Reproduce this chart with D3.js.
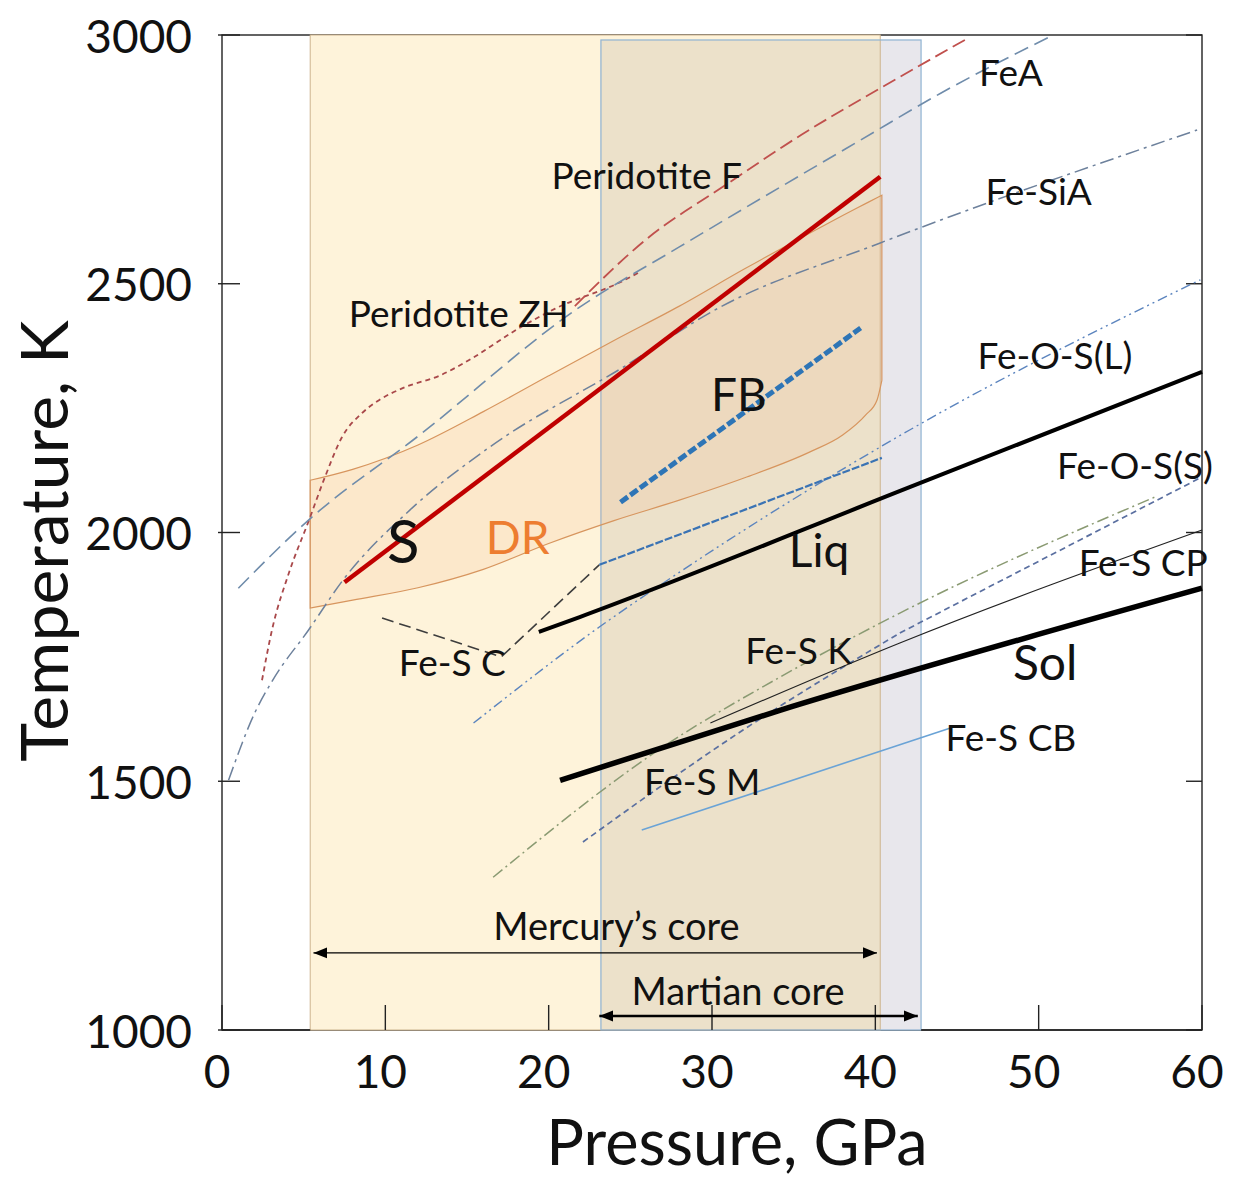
<!DOCTYPE html>
<html>
<head>
<meta charset="utf-8">
<script src="https://cdn.jsdelivr.net/npm/d3@7"></script>
<style>
  body { margin: 0; background: #fff; }
  text { font-family: Lato, "Open Sans", sans-serif; fill: #111; }
</style>
</head>
<body>
<script>
// Chart size (the whole page)
const width = 1234;
const height = 1179;

// Axis ticks
const xTicks = [0, 10, 20, 30, 40, 50, 60];
const yTicks = [1000, 1500, 2000, 2500, 3000];

// Shaded pressure ranges (GPa)
const mercuryRange = [5.4, 40.3];
const marsRange = [23.2, 42.8];

// DR band: pressure, lower T, upper T
const drBand = [
  [5.4, 1848, 2105], [8, 1864, 2127], [12, 1889, 2176], [16, 1926, 2243],
  [20, 1978, 2315], [24, 2024, 2386], [28, 2065, 2455], [32, 2110, 2530],
  [36, 2162, 2602], [38, 2196, 2637], [39.4, 2236, 2661], [40.1, 2266, 2673],
  [40.4, 2306, 2678]
];

// Curves [pressure GPa, temperature K]
const sLine = [[7.5, 1900], [40.3, 2715]];
const fbLine = [[24.4, 2061], [39.1, 2411]];
const liqLine = [[19.4, 1800], [21.9, 1830], [42.1, 2091], [60, 2323]];
const solLine = [[20.7, 1502], [34.2, 1643], [60, 1888]];
const feSCP = [[29.9, 1617], [41.5, 1778], [60, 2005]];
const feSCB = [[25.7, 1402], [44.6, 1607]];
const feSK = [[16.6, 1307], [27.0, 1569], [34.2, 1710], [41.5, 1838], [57.1, 2071]];
const feSM = [[22.1, 1378], [31.9, 1603], [41.5, 1798]];
const feOSS = [[41.5, 1798], [59.9, 2110]];
const feOSL = [[15.4, 1617], [23.1, 1810], [27.0, 1898], [42.1, 2206], [59.9, 2508]];
const feSC = [[9.8, 1828], [17.1, 1750], [23.1, 1935]];
const feSCext = [[23.1, 1935], [40.4, 2150]];
const feA = [[1.0, 1888], [5.3, 2025], [12.1, 2196], [21.9, 2453], [28.0, 2574], [39.1, 2789], [44.0, 2883], [50.9, 3000]];
const feSiA = [[0.4, 1502], [2.0, 1637], [3.1, 1703], [5.3, 1804], [7.4, 1904], [11.5, 2045], [16.4, 2172], [24.5, 2331], [30.5, 2453], [40.3, 2582], [59.7, 2809]];
const peridZH = [[2.45, 1703], [3.06, 1804], [4.1, 1919], [5.33, 2025], [6.31, 2112], [7.35, 2192], [8.57, 2240], [9.61, 2266], [11.2, 2292], [13.3, 2315], [15.3, 2350], [17.9, 2405], [20.4, 2450], [24.5, 2505], [25.6, 2524]];
const peridF = [[21.6, 2455], [26.0, 2590], [30.9, 2700], [35.5, 2800], [40.3, 2893], [45.8, 2996]];

// Core arrows: [from, to] pressure, at temperature
const mercuryArrow = [5.6, 40.1];
const mercuryArrowT = 1155;
const marsArrow = [23.1, 42.6];
const marsArrowT = 1028;

// Scales
const x = d3.scaleLinear().domain([0, 60]).range([222, 1202]);
const y = d3.scaleLinear().domain([1000, 3000]).range([1030, 35]);

const svg = d3.select("body")
  .append("svg")
  .attr("width", width)
  .attr("height", height);

const defs = svg.append("defs");
function arrowMarker(id, orient, size) {
  defs.append("marker")
    .attr("id", id)
    .attr("viewBox", "0 0 10 10")
    .attr("refX", 10).attr("refY", 5)
    .attr("markerUnits", "userSpaceOnUse")
    .attr("markerWidth", size).attr("markerHeight", size)
    .attr("orient", orient)
    .append("path")
    .attr("d", "M0,1 L10,5 L0,9 Z")
    .attr("fill", "#000");
}
arrowMarker("arr", "auto-start-reverse", 14);

// Frame
svg.append("rect")
  .attr("x", x(0)).attr("y", y(3000))
  .attr("width", x(60) - x(0)).attr("height", y(1000) - y(3000))
  .attr("fill", "none").attr("stroke", "#222").attr("stroke-width", 1.4);

// Shaded core ranges
svg.append("rect")
  .attr("x", x(mercuryRange[0])).attr("y", y(3000))
  .attr("width", x(mercuryRange[1]) - x(mercuryRange[0])).attr("height", y(1000) - y(3000))
  .attr("fill", "#fef3da");
svg.append("rect")
  .attr("x", x(marsRange[0])).attr("y", y(2990))
  .attr("width", x(marsRange[1]) - x(marsRange[0])).attr("height", y(1000) - y(2990))
  .attr("fill", "#e8e7ec");
svg.append("rect")
  .attr("x", x(marsRange[0])).attr("y", y(2990))
  .attr("width", x(mercuryRange[1]) - x(marsRange[0])).attr("height", y(1000) - y(2990))
  .attr("fill", "#ece1ca");
svg.append("rect")
  .attr("x", x(mercuryRange[0])).attr("y", y(3000))
  .attr("width", x(mercuryRange[1]) - x(mercuryRange[0])).attr("height", y(1000) - y(3000))
  .attr("fill", "none").attr("stroke", "#cdb48e").attr("stroke-width", 1);
svg.append("rect")
  .attr("x", x(marsRange[0])).attr("y", y(2990))
  .attr("width", x(marsRange[1]) - x(marsRange[0])).attr("height", y(1000) - y(2990))
  .attr("fill", "none").attr("stroke", "#8fb3d3").attr("stroke-width", 1.2);

// DR band
const drArea = d3.area()
  .x(d => x(d[0])).y0(d => y(d[1])).y1(d => y(d[2]))
  .curve(d3.curveMonotoneX);
svg.append("path")
  .attr("d", drArea(drBand))
  .attr("fill", "#f4b183").attr("fill-opacity", 0.17)
  .attr("stroke", "#d7955e").attr("stroke-width", 1.2);

// Ticks
const tickG = svg.append("g").attr("stroke", "#222").attr("stroke-width", 1.4);
xTicks.forEach(t => {
  tickG.append("line").attr("x1", x(t)).attr("x2", x(t)).attr("y1", y(1000)).attr("y2", y(1000) - 25);
});
yTicks.forEach(t => {
  tickG.append("line").attr("x1", x(0) - 4).attr("x2", x(0) + 18).attr("y1", y(t)).attr("y2", y(t));
  tickG.append("line").attr("x1", x(60) - 16).attr("x2", x(60)).attr("y1", y(t)).attr("y2", y(t));
});
svg.append("line").attr("x1", x(0)).attr("x2", x(mercuryRange[0])).attr("y1", y(1000)).attr("y2", y(1000))
  .attr("stroke", "#222").attr("stroke-width", 1.4);
svg.append("line").attr("x1", x(marsRange[1])).attr("x2", x(60)).attr("y1", y(1000)).attr("y2", y(1000))
  .attr("stroke", "#222").attr("stroke-width", 1.4);

// Curves
const smooth = d3.line().x(d => x(d[0])).y(d => y(d[1])).curve(d3.curveMonotoneX);
const straight = d3.line().x(d => x(d[0])).y(d => y(d[1]));
function curve(data, gen, color, w, dash) {
  svg.append("path")
    .attr("d", gen(data))
    .attr("fill", "none")
    .attr("stroke", color)
    .attr("stroke-width", w)
    .attr("stroke-dasharray", dash || null);
}
curve(peridZH, smooth, "#a9484a", 1.8, "5,4");
curve(peridF, smooth, "#c0504d", 1.8, "14,6");
curve(feA, smooth, "#6f8cab", 1.6, "15,7");
curve(feSiA, smooth, "#6d819c", 1.5, "14,5,3,5");
curve(feOSL, smooth, "#5b84be", 1.4, "10,4,2,4,2,4");
curve(feSC, straight, "#3d3d3d", 1.6, "12,6");
curve(feSCext, straight, "#3a73b4", 2.2, "8,2");
curve(feSK, smooth, "#8a9a72", 1.5, "12,4,2,4");
curve(feSM, smooth, "#5a6fa0", 1.7, "6,4");
curve(feOSS, smooth, "#5a6fa0", 1.7, "6,4");
curve(feSCP, smooth, "#222", 1.2);
curve(feSCB, straight, "#6aa3d6", 1.6);
curve(liqLine, smooth, "#000", 4);
curve(solLine, smooth, "#000", 5.5);
curve(sLine, straight, "#c00000", 4.5);
curve(fbLine, straight, "#2e75b6", 5, "9,3");

// Core arrows
svg.append("line")
  .attr("x1", x(mercuryArrow[0])).attr("x2", x(mercuryArrow[1]))
  .attr("y1", y(mercuryArrowT)).attr("y2", y(mercuryArrowT))
  .attr("stroke", "#000").attr("stroke-width", 1.3)
  .attr("marker-start", "url(#arr)").attr("marker-end", "url(#arr)");
svg.append("line")
  .attr("x1", x(marsArrow[0])).attr("x2", x(marsArrow[1]))
  .attr("y1", y(marsArrowT)).attr("y2", y(marsArrowT))
  .attr("stroke", "#000").attr("stroke-width", 2.5)
  .attr("marker-start", "url(#arr)").attr("marker-end", "url(#arr)");

// Labels: text, pressure, temperature, size, colour
const labels = [
  ["Peridotite F", 26.0, 2719, 37],
  ["FeA", 48.3, 2926, 37],
  ["Fe-SiA", 50.0, 2688, 37],
  ["Peridotite ZH", 14.5, 2443, 37],
  ["Fe-O-S(L)", 51.0, 2357, 37],
  ["FB", 31.65, 2280, 46],
  ["Fe-O-S(S)", 55.9, 2136, 37],
  ["S", 11.1, 1985, 60],
  ["DR", 18.1, 1991, 46, "#ed7d31"],
  ["Liq", 36.55, 1965, 46],
  ["Fe-S CP", 56.4, 1941, 37],
  ["Fe-S C", 14.1, 1740, 37],
  ["Fe-S K", 35.3, 1764, 37],
  ["Sol", 50.4, 1740, 48],
  ["Fe-S CB", 48.3, 1589, 37],
  ["Fe-S M", 29.4, 1502, 37],
  ["Mercury\u2019s core", 24.15, 1211, 38],
  ["Martian core", 31.6, 1080, 38]
];
labels.forEach(l => {
  svg.append("text")
    .attr("x", x(l[1])).attr("y", y(l[2]))
    .attr("text-anchor", "middle")
    .attr("dominant-baseline", "central")
    .style("font-size", l[3] + "px")
    .style("fill", l[4] || "#111")
    .text(l[0]);
});

// Tick labels
xTicks.forEach(t => {
  svg.append("text")
    .attr("x", x(t) - 5).attr("y", 1070)
    .attr("text-anchor", "middle").attr("dominant-baseline", "central")
    .style("font-size", "46px")
    .text(t);
});
yTicks.forEach(t => {
  svg.append("text")
    .attr("x", 192).attr("y", y(t))
    .attr("text-anchor", "end").attr("dominant-baseline", "central")
    .style("font-size", "46px")
    .text(t);
});

// Axis titles
svg.append("text")
  .attr("x", 737).attr("y", 1140)
  .attr("text-anchor", "middle").attr("dominant-baseline", "central")
  .style("font-size", "63px")
  .text("Pressure, GPa");
svg.append("text")
  .attr("transform", "translate(42,541) rotate(-90)")
  .attr("text-anchor", "middle").attr("dominant-baseline", "central")
  .style("font-size", "66px")
  .text("Temperature, K");
</script>
</body>
</html>
